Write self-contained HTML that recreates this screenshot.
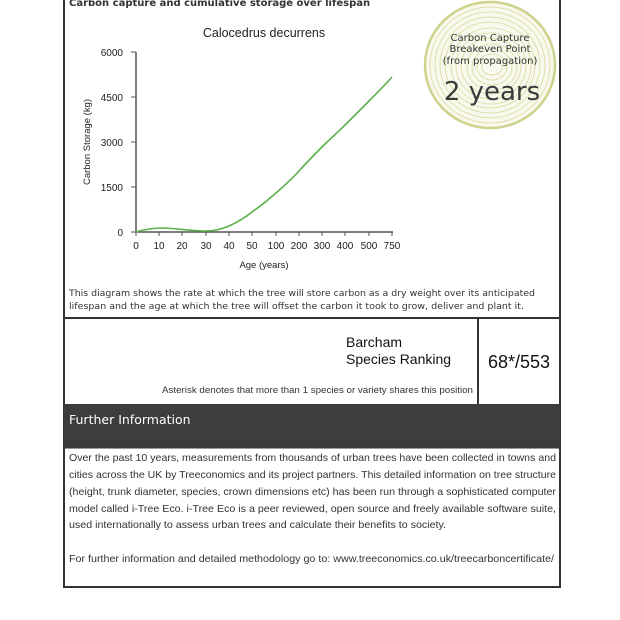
<!DOCTYPE html>
<html><head><meta charset="utf-8"><style>
html,body{margin:0;padding:0;background:#fff;width:620px;height:620px;overflow:hidden}
svg{display:block}
</style></head><body>
<svg width="620" height="620" viewBox="0 0 620 620" xmlns="http://www.w3.org/2000/svg">
<rect x="64" y="-5" width="496" height="592" fill="#fff" stroke="#333" stroke-width="2"/>
<text x="69" y="6" font-family="DejaVu Sans, sans-serif" font-weight="bold" font-size="10" fill="#333">Carbon capture and cumulative storage over lifespan</text>

<g fill="none" stroke="#d6da9e">
<ellipse cx="490" cy="65" rx="65" ry="63" stroke-width="2.5" stroke="#cdd38c" fill="#f8f9ec"/>
<ellipse cx="490" cy="65" rx="60" ry="58" stroke-width="0.8"/>
<ellipse cx="490" cy="65" rx="55" ry="53" stroke-width="0.8"/>
<ellipse cx="490" cy="65" rx="50" ry="48" stroke-width="0.8"/>
<ellipse cx="490" cy="65" rx="45" ry="43" stroke-width="0.8"/>
<ellipse cx="491" cy="66" rx="40" ry="38" stroke-width="0.8"/>
<ellipse cx="491" cy="66" rx="35" ry="33" stroke-width="0.8"/>
<ellipse cx="491" cy="66" rx="30" ry="28" stroke-width="0.8"/>
<ellipse cx="492" cy="67" rx="25" ry="23" stroke-width="0.8"/>
<ellipse cx="492" cy="67" rx="20" ry="18" stroke-width="0.8"/>
<ellipse cx="492" cy="67" rx="15" ry="13" stroke-width="0.8"/>
<ellipse cx="492" cy="67" rx="10" ry="8" stroke-width="0.8"/>
</g>
<g font-family="DejaVu Sans, sans-serif" fill="#333" text-anchor="middle">
<text x="490" y="41" font-size="10">Carbon Capture</text>
<text x="490" y="52" font-size="10">Breakeven Point</text>
<text x="490" y="64" font-size="10">(from propagation)</text>
<text x="492" y="100" font-size="26" fill="#3a3a3a">2 years</text>
</g>

<g font-family="Liberation Sans, sans-serif" fill="#222">
<text x="264" y="37" font-size="12.5" text-anchor="middle">Calocedrus decurrens</text>
<g font-size="10" text-anchor="end">
<text x="123" y="56">6000</text><text x="123" y="101">4500</text><text x="123" y="146">3000</text><text x="123" y="191">1500</text><text x="123" y="236">0</text>
</g>
<text transform="translate(90,142) rotate(-90)" font-size="9.5" text-anchor="middle">Carbon Storage (kg)</text>
<g font-size="10" text-anchor="middle">
<text x="136" y="249">0</text><text x="159" y="249">10</text><text x="182" y="249">20</text><text x="206" y="249">30</text><text x="229" y="249">40</text><text x="252" y="249">50</text><text x="276" y="249">100</text><text x="299" y="249">200</text><text x="322" y="249">300</text><text x="345" y="249">400</text><text x="369" y="249">500</text><text x="392" y="249">750</text>
</g>
<text x="264" y="268" font-size="9.5" text-anchor="middle">Age (years)</text>
</g>
<path d="M136 52 V232 H393" stroke="#555" stroke-width="1.5" fill="none"/>
<g stroke="#555" stroke-width="1">
<path d="M131 52H136M131 97H136M131 142H136M131 187H136M131 232H136"/>
<path d="M136 232v4M159 232v4M182 232v4M206 232v4M229 232v4M252 232v4M276 232v4M299 232v4M322 232v4M345 232v4M369 232v4M392 232v4"/>
</g>
<path d="M136 232 C145 229 155 228 165 228 C180 229 195 231 206 231 C215 231 222 229 229 226 C240 221 246 217 252 212 C262 205 268 200 276 193 C285 185 292 179 299 171 C308 161 315 154 322 147 C330 139 338 132 345 125 C353 117 361 109 369 101 C377 93 385 85 392 77" fill="none" stroke="#5ab04a" stroke-width="1.6"/>

<g font-family="DejaVu Sans, sans-serif" font-size="9.2" fill="#333">
<text x="69" y="296" textLength="466" lengthAdjust="spacingAndGlyphs">This diagram shows the rate at which the tree will store carbon as a dry weight over its anticipated</text>
<text x="69" y="309" textLength="455" lengthAdjust="spacingAndGlyphs">lifespan and the age at which the tree will offset the carbon it took to grow, deliver and plant it.</text>
</g>

<line x1="63" y1="318" x2="561" y2="318" stroke="#333" stroke-width="2"/>
<line x1="478" y1="318" x2="478" y2="404" stroke="#333" stroke-width="2"/>
<g font-family="Liberation Sans, sans-serif" fill="#111">
<text x="346" y="347" font-size="14">Barcham</text>
<text x="346" y="364" font-size="14">Species Ranking</text>
<text x="519" y="368" font-size="18" text-anchor="middle">68*/553</text>
<text x="162" y="393" font-size="9" fill="#333" textLength="311" lengthAdjust="spacingAndGlyphs">Asterisk denotes that more than 1 species or variety shares this position</text>
</g>

<rect x="64" y="404" width="496" height="44" fill="#3d3d3d"/>
<text x="69" y="424" font-family="DejaVu Sans, sans-serif" font-size="12.5" fill="#fff">Further Information</text>
<line x1="63" y1="448" x2="561" y2="448" stroke="#333" stroke-width="1"/>
<g font-family="Liberation Sans, sans-serif" font-size="10.3" fill="#333">
<text x="69" y="461" textLength="487" lengthAdjust="spacingAndGlyphs">Over the past 10 years, measurements from thousands of urban trees have been collected in towns and</text>
<text x="69" y="478" textLength="487" lengthAdjust="spacingAndGlyphs">cities across the UK by Treeconomics and its project partners. This detailed information on tree structure</text>
<text x="69" y="495" textLength="487" lengthAdjust="spacingAndGlyphs">(height, trunk diameter, species, crown dimensions etc) has been run through a sophisticated computer</text>
<text x="69" y="512" textLength="487" lengthAdjust="spacingAndGlyphs">model called i-Tree Eco. i-Tree Eco is a peer reviewed, open source and freely available software suite,</text>
<text x="69" y="528" textLength="377" lengthAdjust="spacingAndGlyphs">used internationally to assess urban trees and calculate their benefits to society.</text>
<text x="69" y="562" textLength="485" lengthAdjust="spacingAndGlyphs">For further information and detailed methodology go to: www.treeconomics.co.uk/treecarboncertificate/</text>
</g>
</svg>
</body></html>
